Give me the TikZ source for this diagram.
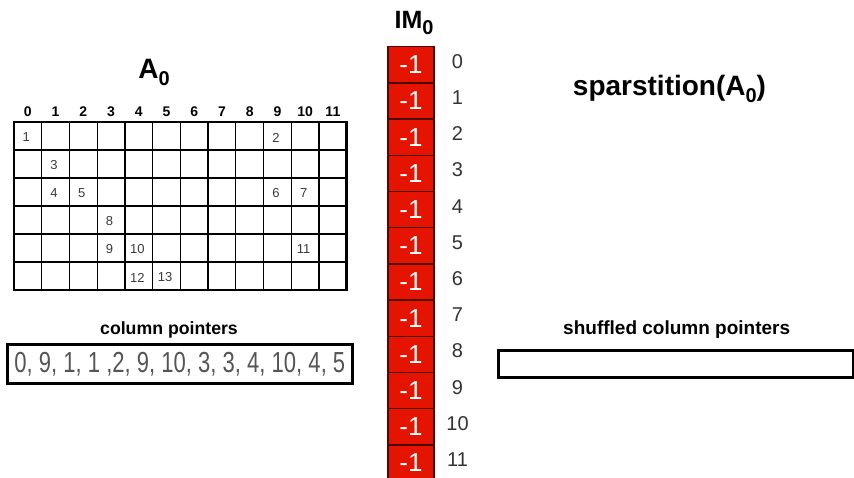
\documentclass[tikz,border=0pt]{standalone}
\usepackage{fontspec}
\setmainfont{Liberation Sans}
\definecolor{imred}{HTML}{E51400}
\definecolor{imborder}{HTML}{4A0800}
\definecolor{celltxt}{HTML}{3A3A3A}
\definecolor{ptrtxt}{HTML}{555555}
\definecolor{idxtxt}{HTML}{333333}
\newcommand{\fs}[1]{\fontsize{#1}{#1}\selectfont}
\begin{document}
\begin{tikzpicture}[x=1pt,y=-1pt,
  title/.style={font=\bfseries\fs{28}, inner sep=0pt, anchor=base},
  colidx/.style={font=\bfseries\fs{14}, inner sep=0pt, anchor=base},
  celltext/.style={font=\fs{13}, text=celltxt, inner sep=0pt},
  imcell/.style={draw=imborder, line width=1.3pt, fill=imred, minimum width=46pt, minimum height=36.2pt, inner sep=0pt, anchor=north west, font=\fs{26}, text=white},
  imidx/.style={font=\fs{20}, text=idxtxt, inner sep=0pt, anchor=base},
  label/.style={font=\bfseries\fs{18}, inner sep=0pt, anchor=base},
  ptrbox/.style={draw=black, line width=3pt, inner sep=0pt, anchor=north west},
]
\useasboundingbox (0,0) rectangle (854,477);
\fill[white] (0,0) rectangle (854,477);

% ---- A0 matrix ----
\node[title] (titleA) at (154,78) {A\raisebox{-7pt}{\fs{20}0}};
\foreach \i in {0,...,11} {
  \node[colidx] (col\i) at ({14+27.73*(\i+0.5)},116.5) {\i};
}
\foreach \i in {1,...,11} {
  \draw[line width=1.3pt] ({14+27.73*\i},122) -- ({14+27.73*\i},290);
}
\foreach \j in {1,...,5} {
  \draw[line width=1.3pt] (14,{122+28*\j}) -- (346.7,{122+28*\j});
}
\draw[line width=2.7pt] (14,122) rectangle (346.7,290);
\foreach \r/\c/\v in {0/0/1,0/9/2,1/1/3,2/1/4,2/2/5,2/9/6,2/10/7,3/3/8,4/3/9,4/4/10,4/10/11,5/4/12,5/5/13} {
  \node[celltext] (cell\v) at ({14+27.73*(\c+0.5)-1.5},{122+28*(\r+0.5)+1.5}) {\v};
}

% ---- column pointers ----
\node[label, font=\bfseries\fs{17.7}] (cpl) at (169,334) {column pointers};
\node[ptrbox, minimum width=344.7pt, minimum height=38.4pt] (cpbox) at (6,343.3) {};
\node[inner sep=0pt, text=ptrtxt] (cptext) at (cpbox.center) {\scalebox{0.76}[1]{\fs{29}0, 9, 1, 1 ,2, 9, 10, 3, 3, 4, 10, 4, 5}};

% ---- IM0 ----
\node[title, font=\bfseries\fs{25}] (titleIM) at (414,28.3) {IM\raisebox{-6.5pt}{\fs{20}0}};
\foreach \k in {0,...,11} {
  \node[imcell] (im\k) at (387.3,{46+36.2*\k}) {-1};
  \node[imidx] (imi\k) at (457.5,{46+36.2*\k+22.3}) {\k};
}

% ---- sparstition ----
\node[title] (titleS) at (669.5,95) {sparstition(A\raisebox{-7pt}{\fs{20}0})};
\node[label, font=\bfseries\fs{19}] (scl) at (676.7,334) {shuffled column pointers};
\node[ptrbox, minimum width=355pt, minimum height=27pt] (scbox) at (496.7,348.5) {};
\end{tikzpicture}
\end{document}
